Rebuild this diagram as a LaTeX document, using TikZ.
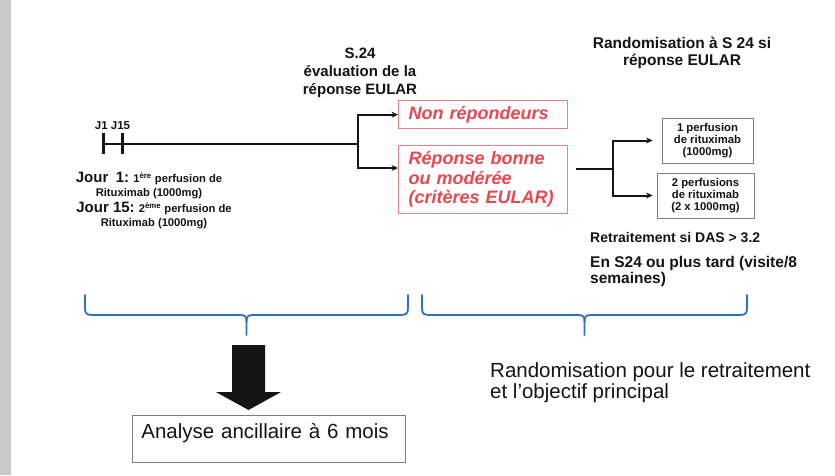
\documentclass[tikz,border=0pt]{standalone}
\usepackage{fontspec}
\setmainfont{Liberation Sans}
\usetikzlibrary{arrows.meta,calc}

\definecolor{inkblack}{RGB}{20,20,20}
\definecolor{redtext}{RGB}{236,70,80}
\definecolor{redframe}{RGB}{234,128,134}
\definecolor{braceblue}{RGB}{46,112,190}
\definecolor{framegrey}{RGB}{125,125,125}
\definecolor{stripgrey}{RGB}{201,201,201}

\newcommand\setfs[2]{\fontsize{#1}{#2}\selectfont}

% curly brace opening upwards: left x, right x, top y, bar y, tip y
\newcommand\curlybrace[5]{%
  \pgfmathsetmacro\bmid{(#1+#2)/2}%
  \draw[brace] (#1,#3) -- (#1,#4-7) .. controls (#1,#4-1) and (#1+2,#4) .. (#1+8,#4)
    -- (\bmid-6,#4) .. controls (\bmid-1,#4) and (\bmid,#4+2) .. (\bmid,#4+7) -- (\bmid,#5);
  \draw[brace] (\bmid,#4+7) .. controls (\bmid,#4+2) and (\bmid+1,#4) .. (\bmid+6,#4)
    -- (#2-8,#4) .. controls (#2-2,#4) and (#2,#4-1) .. (#2,#4-7) -- (#2,#3);
}

\begin{document}
\begin{tikzpicture}[x=1pt,y=-1pt,
  heading/.style={inner sep=0pt, align=center, text=inkblack},
  note/.style={inner sep=0pt, text=inkblack, font=\bfseries\setfs{14}{16}},
  jourtext/.style={inner sep=0pt, align=center, text=inkblack, font=\bfseries\setfs{11.2}{13.5}},
  redbox/.style={draw=redframe, line width=1.3pt, text=redtext,
    font=\bfseries\itshape\setfs{18}{19.5}, text width=149pt, inner xsep=10pt,
    inner ysep=0pt, align=left, anchor=north west},
  smallbox/.style={draw=framegrey, line width=0.8pt, font=\bfseries\setfs{11.3}{12},
    align=center, inner sep=0pt, text=inkblack},
  conn/.style={draw=inkblack, line width=2pt},
  arrowconn/.style={conn, -{Stealth[length=6.5pt,width=6pt]}},
  tickmark/.style={draw=inkblack, line width=3pt},
  brace/.style={draw=braceblue, line width=1.8pt, line cap=round},
]
\useasboundingbox (0,0) rectangle (835,475);
\fill[white] (0,0) rectangle (835,475);
\fill[stripgrey] (0,0) rectangle (11,475);

% headings
\node[heading, anchor=north, font=\bfseries\setfs{15}{18}] (s24) at (360,48)
  {S.24\\évaluation de la\\réponse EULAR};
\node[heading, anchor=north, font=\bfseries\setfs{15.5}{16.5}] (rando) at (682,37)
  {Randomisation à S 24 si\\réponse EULAR};

% timeline
\coordinate (t0) at (103,144);
\coordinate (t15) at (122,144);
\coordinate (fork1) at (358,144);
\draw[conn] (t0) -- (fork1);
\draw[tickmark] ($(t0)+(0,-11)$) -- ($(t0)+(0,10)$);
\draw[tickmark] ($(t15)+(0,-11)$) -- ($(t15)+(0,10)$);
\node[inner sep=0pt, anchor=base, font=\bfseries\setfs{11.5}{13}, text=inkblack] (jlab) at (112.5,129) {J1 J15};

\node[jourtext, anchor=north] (jour1) at (149,172)
  {{\setfs{15}{13.5}Jour\enspace 1:} 1\textsuperscript{ère} perfusion de\\Rituximab (1000mg)};
\node[jourtext, anchor=north] (jour15) at (154,202)
  {{\setfs{15}{13.5}Jour 15:} 2\textsuperscript{ème} perfusion de\\Rituximab (1000mg)};

% EULAR response
\node[redbox, minimum height=28pt] (nonrep) at (398,100) {Non répondeurs};
\node[redbox, minimum height=68pt] (rep) at (398,145) {Réponse bonne\\ou modérée\\(critères EULAR)};
\draw[arrowconn] (fork1) |- (nonrep.west);
\draw[arrowconn] (fork1) |- ($(rep.north west)+(0,23)$);

% randomisation arms
\node[smallbox, minimum width=91pt, minimum height=45pt] (one) at (707.5,140.5)
  {1 perfusion\\de rituximab\\(1000mg)};
\node[smallbox, minimum width=97pt, minimum height=45pt] (two) at (705.5,195.5)
  {2 perfusions\\de rituximab\\(2 x 1000mg)};
\coordinate (b2start) at ($(rep.north east)+(8,24)$);
\coordinate (fork2) at (613,169);
\draw[conn] (b2start) -- (fork2);
\draw[arrowconn, shorten >=9pt] (fork2) |- (one.west);
\draw[arrowconn, shorten >=4pt] (fork2) |- (two.west);

\node[note, anchor=base west] (retr) at (590,242) {Retraitement si DAS > 3.2};
\node[note, anchor=north west, align=left, font=\bfseries\setfs{15.5}{16.5}] (visit) at (590,256)
  {En S24 ou plus tard (visite/8\\semaines)};

% braces
\curlybrace{85}{408}{295}{315}{335}
\curlybrace{422}{747}{295}{315}{335}

% block arrow
\fill[inkblack] (232,345) -- (265,345) -- (265,392) -- (281,392) -- (248.5,410)
  -- (216,392) -- (232,392) -- cycle;

\node[draw=framegrey, line width=0.8pt, anchor=north west, font=\setfs{20.5}{22},
  text width=255pt, align=left, inner xsep=9pt, inner ysep=4pt,
  text height=19pt, text depth=20pt, text=inkblack] (anc) at (132,415)
  {Analyse ancillaire à 6 mois};

\node[anchor=north west, inner sep=0pt, align=left, font=\setfs{20.5}{21.5}, text=inkblack] (obj) at (490,362)
  {Randomisation pour le retraitement\\et l’objectif principal};
\end{tikzpicture}
\end{document}
